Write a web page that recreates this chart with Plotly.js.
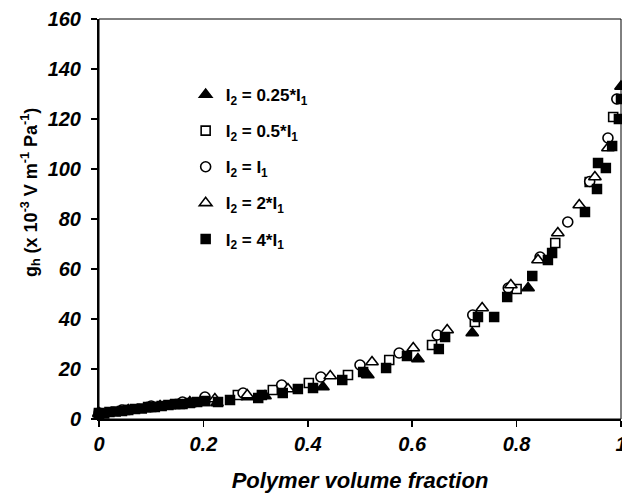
<!DOCTYPE html>
<html>
<head>
<meta charset="utf-8">
<script src="https://cdn.plot.ly/plotly-3.0.1.min.js"></script>
<style>html,body{margin:0;padding:0;background:#fff}#chart{width:622px;height:493px}</style>
</head>
<body>
<div id="chart"></div>
<script>
// Series: I2 = 0.25*I1 (filled triangle)
const xA = [0, 0.04, 0.088, 0.136, 0.174, 0.226, 0.284, 0.318, 0.429, 0.515, 0.611, 0.715, 0.822, 1.0];
const yA = [2, 2.8, 4, 5.2, 6, 6.4, 8.8, 9.2, 12.8, 17.6, 24, 34.4, 52.4, 133];
// I2 = 0.5*I1 (open square)
const xB = [0, 0.05, 0.1, 0.155, 0.203, 0.266, 0.333, 0.402, 0.477, 0.556, 0.638, 0.72, 0.8, 0.874, 0.94, 0.985];
const yB = [2.4, 3.6, 4.8, 6, 7.2, 9.6, 11.6, 14.4, 17.6, 23.6, 29.6, 38.8, 52, 70.4, 94.8, 120.8];
// I2 = I1 (open circle)
const xC = [0, 0.044, 0.1, 0.16, 0.203, 0.276, 0.35, 0.425, 0.5, 0.575, 0.648, 0.716, 0.784, 0.845, 0.898, 0.94, 0.975, 0.992];
const yC = [2.4, 3.6, 5.2, 6.8, 8.8, 10.4, 13.6, 16.8, 21.6, 26.4, 33.6, 41.6, 52.4, 64.8, 78.8, 95, 112.4, 128];
// I2 = 2*I1 (open triangle)
const xD = [0, 0.056, 0.117, 0.174, 0.222, 0.284, 0.362, 0.443, 0.523, 0.602, 0.667, 0.734, 0.789, 0.841, 0.879, 0.92, 0.95, 0.975];
const yD = [2.4, 3.6, 5.2, 6.8, 8, 9.6, 12, 17.2, 22.8, 28.4, 35.6, 44.4, 53.6, 63.6, 74.4, 85.6, 96.8, 108.4];
// I2 = 4*I1 (filled square)
const xE = [0, 0.01, 0.02, 0.032, 0.044, 0.056, 0.069, 0.082, 0.094, 0.107, 0.12, 0.133, 0.146, 0.16, 0.174, 0.188, 0.203, 0.228, 0.251, 0.305, 0.312, 0.352, 0.381, 0.41, 0.466, 0.506, 0.55, 0.59, 0.651, 0.663, 0.726, 0.757, 0.782, 0.83, 0.86, 0.868, 0.931, 0.954, 0.956, 0.971, 0.983, 0.996, 1.0];
const yE = [2, 2.2, 2.8, 3, 3.2, 3.6, 4, 4.2, 4.8, 4.8, 5.2, 5.6, 6, 6, 6.4, 6.8, 7.2, 6.8, 7.6, 8.4, 9.6, 10.4, 12, 12.4, 15.6, 18.8, 20.4, 25.2, 28, 32.8, 40.8, 40.8, 48.8, 57.2, 63.6, 66.4, 82.8, 92, 102.4, 100.4, 109.2, 120, 128];

const names = [
  'I<sub>2</sub> = 0.25*I<sub>1</sub>',
  'I<sub>2</sub> = 0.5*I<sub>1</sub>',
  'I<sub>2</sub> = I<sub>1</sub>',
  'I<sub>2</sub> = 2*I<sub>1</sub>',
  'I<sub>2</sub> = 4*I<sub>1</sub>'
];
const xTicks = [0, 0.2, 0.4, 0.6, 0.8, 1];
const xTickText = ['0', '0.2', '0.4', '0.6', '0.8', '1'];
const yTicks = [0, 20, 40, 60, 80, 100, 120, 140, 160];
const yTitle = 'g<sub>h</sub> (x 10<sup>-3</sup> V m<sup>-1</sup> Pa<sup>-1</sup>)';

const FONT = 'Arial, "Liberation Sans", sans-serif';
const mk = (sym, size) => ({symbol: sym, size: size, color: 'black', line: {color: 'black', width: 1.5}});
const openMk = (sym, size) => ({symbol: sym, size: size, color: 'white', line: {color: 'black', width: 1.6}});

const traces = [
  {x: xA, y: yA, name: names[0], mode: 'markers', marker: mk('triangle-up', 11), legendgroup: 'a'},
  {x: xB, y: yB, name: names[1], mode: 'markers', marker: openMk('square', 9), legendgroup: 'b'},
  {x: xC, y: yC, name: names[2], mode: 'markers', marker: openMk('circle', 10), legendgroup: 'c'},
  {x: xD, y: yD, name: names[3], mode: 'markers', marker: openMk('triangle-up', 11), legendgroup: 'd'},
  {x: xE, y: yE, name: names[4], mode: 'markers', marker: mk('square', 9), legendgroup: 'e'}
].map(t => Object.assign(t, {type: 'scatter', cliponaxis: false}));

const tickFont = {family: FONT, size: 20, color: 'black', weight: 'bold', style: 'italic'};

const layout = {
  width: 622, height: 493,
  margin: {l: 99, r: 1, t: 19, b: 74},
  paper_bgcolor: 'white', plot_bgcolor: 'white',
  showlegend: true,
  legend: {
    x: 0.166, y: 0.855, xanchor: 'left', yanchor: 'top',
    font: {family: FONT, size: 17, color: 'black', weight: 'bold'},
    tracegroupgap: 11, itemwidth: 30, bgcolor: 'rgba(0,0,0,0)'
  },
  xaxis: {
    range: [0, 1], tickvals: xTicks, ticktext: xTickText,
    showgrid: false, zeroline: false,
    showline: true, linecolor: 'black', linewidth: 2,
    ticks: 'outside', ticklen: 6, tickwidth: 1.5, tickcolor: 'black',
    tickfont: tickFont, ticklabeloverflow: 'allow',
    title: {text: 'Polymer volume fraction', font: {family: FONT, size: 22, color: 'black', weight: 'bold', style: 'italic'}, standoff: 20}
  },
  yaxis: {
    range: [0, 160], tickvals: yTicks,
    showgrid: false, zeroline: false,
    showline: true, linecolor: 'black', linewidth: 2,
    ticks: 'outside', ticklen: 6, tickwidth: 1.5, tickcolor: 'black',
    tickfont: tickFont, ticklabelstandoff: 6
  },
  annotations: [
    {text: yTitle, xref: 'paper', yref: 'paper', x: -0.132, y: 0.565, xanchor: 'center', yanchor: 'middle',
     textangle: -90, showarrow: false,
     font: {family: FONT, size: 18, color: 'black', weight: 'bold'}}
  ],
  shapes: [
    {type: 'rect', xref: 'paper', yref: 'paper', x0: 0, x1: 1, y0: 0, y1: 1, line: {color: 'black', width: 1}}
  ]
};

Plotly.newPlot('chart', traces, layout, {staticPlot: true, displayModeBar: false});
</script>
</body>
</html>
